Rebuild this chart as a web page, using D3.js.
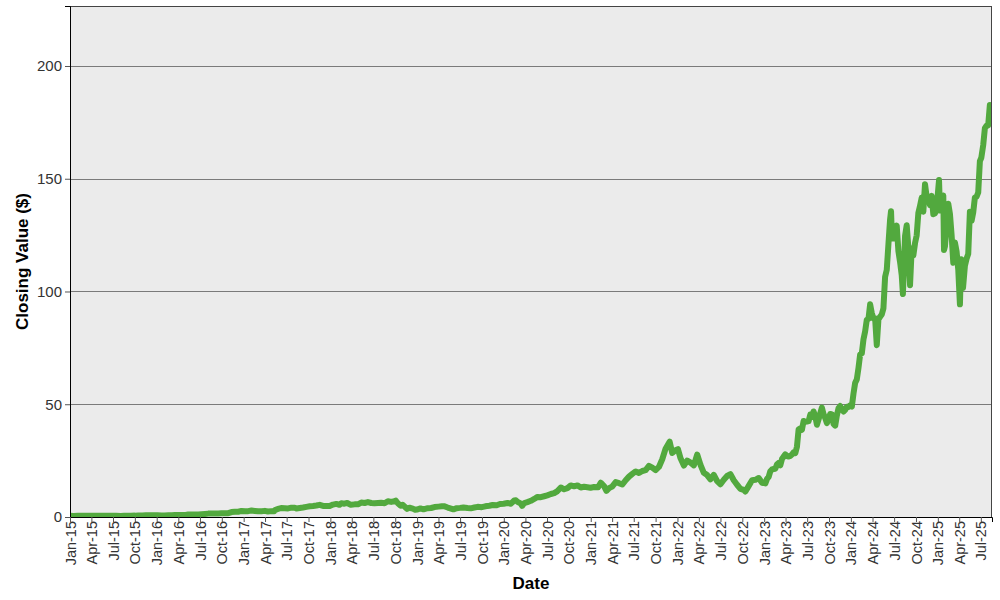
<!DOCTYPE html>
<html>
<head>
<meta charset="utf-8">
<script src="https://cdn.jsdelivr.net/npm/d3@7"></script>
<style>
  html, body { margin: 0; padding: 0; background: #fff; }
  svg { display: block; font-family: "Liberation Sans", Arial, sans-serif; }
</style>
</head>
<body>
<svg id="chart" width="1000" height="600"></svg>
<script>
// ---- data (split-adjusted closing values) ----
const closeDates = [
  "2015-01-02","2015-01-16","2015-02-02","2015-02-17","2015-03-02","2015-03-16","2015-04-01","2015-04-15","2015-05-01","2015-05-15","2015-06-01","2015-06-15","2015-07-01","2015-07-15","2015-08-03","2015-08-17","2015-09-01","2015-09-15","2015-10-01","2015-10-15","2015-11-02","2015-11-16","2015-12-01","2015-12-15",
  "2016-01-04","2016-01-20","2016-02-03","2016-02-19","2016-03-04","2016-03-18","2016-04-01","2016-04-15","2016-05-02","2016-05-13","2016-05-27","2016-06-10","2016-06-24","2016-07-08","2016-07-22","2016-08-05","2016-08-19","2016-09-02","2016-09-16","2016-09-30","2016-10-14","2016-10-28","2016-11-11","2016-11-25","2016-12-09","2016-12-23",
  "2017-01-06","2017-01-20","2017-02-03","2017-02-17","2017-03-03","2017-03-17","2017-03-31","2017-04-13","2017-04-28","2017-05-10","2017-05-12","2017-05-26","2017-06-08","2017-06-23","2017-07-07","2017-07-21","2017-08-04","2017-08-11","2017-08-25","2017-09-08","2017-09-22","2017-10-06","2017-10-20","2017-11-03","2017-11-17","2017-12-01","2017-12-15","2017-12-29",
  "2018-01-12","2018-01-26","2018-02-08","2018-02-16","2018-03-01","2018-03-13","2018-03-28","2018-04-13","2018-04-27","2018-05-11","2018-05-25","2018-06-08","2018-06-22","2018-07-06","2018-07-20","2018-08-03","2018-08-17","2018-08-31","2018-09-14","2018-09-28","2018-10-03","2018-10-12","2018-10-24","2018-11-01","2018-11-16","2018-11-20","2018-11-30","2018-12-14","2018-12-24","2018-12-31",
  "2019-01-15","2019-01-28","2019-02-15","2019-03-01","2019-03-15","2019-04-01","2019-04-15","2019-04-24","2019-05-10","2019-05-24","2019-06-03","2019-06-17","2019-07-01","2019-07-15","2019-08-01","2019-08-15","2019-08-30","2019-09-13","2019-09-30","2019-10-15","2019-11-01","2019-11-15","2019-12-02","2019-12-16","2019-12-31",
  "2020-01-17","2020-01-31","2020-02-14","2020-02-21","2020-02-28","2020-03-13","2020-03-18","2020-03-27","2020-04-09","2020-04-24","2020-05-08","2020-05-22","2020-06-05","2020-06-19","2020-07-02","2020-07-17","2020-07-31","2020-08-14","2020-08-28","2020-09-11","2020-09-25","2020-10-09","2020-10-23","2020-11-06","2020-11-20","2020-12-04","2020-12-18","2020-12-31",
  "2021-01-15","2021-02-01","2021-02-12","2021-02-26","2021-03-08","2021-03-19","2021-04-01","2021-04-16","2021-04-30","2021-05-14","2021-05-28","2021-06-11","2021-06-25","2021-07-09","2021-07-23","2021-08-06","2021-08-20","2021-09-03","2021-09-17","2021-10-01","2021-10-15","2021-10-29","2021-11-12","2021-11-29","2021-12-10","2021-12-24",
  "2022-01-03","2022-01-14","2022-01-28","2022-02-11","2022-02-25","2022-03-11","2022-03-25","2022-04-08","2022-04-22","2022-05-06","2022-05-20","2022-06-03","2022-06-17","2022-07-01","2022-07-15","2022-07-29","2022-08-12","2022-08-26","2022-09-09","2022-09-23","2022-10-07","2022-10-14","2022-10-28","2022-11-11","2022-11-25","2022-12-09","2022-12-23",
  "2023-01-06","2023-01-13","2023-01-20","2023-01-27","2023-02-03","2023-02-10","2023-02-17","2023-02-24","2023-03-03","2023-03-10","2023-03-17","2023-03-24","2023-03-31","2023-04-07","2023-04-14","2023-04-21","2023-04-28","2023-05-05","2023-05-12","2023-05-19","2023-05-26","2023-06-02","2023-06-09","2023-06-16","2023-06-23","2023-06-30","2023-07-07","2023-07-14","2023-07-21","2023-07-28","2023-08-04","2023-08-11","2023-08-18","2023-08-25","2023-09-01","2023-09-08","2023-09-15","2023-09-22","2023-09-29","2023-10-06","2023-10-13","2023-10-20","2023-10-27","2023-11-03","2023-11-10","2023-11-17","2023-11-24","2023-12-01","2023-12-08","2023-12-15","2023-12-22","2023-12-29",
  "2024-01-05","2024-01-12","2024-01-19","2024-01-26","2024-02-02","2024-02-09","2024-02-16","2024-02-23","2024-03-01","2024-03-08","2024-03-15","2024-03-22","2024-03-29","2024-04-05","2024-04-12","2024-04-19","2024-04-26","2024-05-03","2024-05-10","2024-05-17","2024-05-24","2024-05-31","2024-06-07","2024-06-14","2024-06-18","2024-06-21","2024-06-28","2024-07-05","2024-07-12","2024-07-19","2024-07-26","2024-08-02","2024-08-07","2024-08-16","2024-08-23","2024-08-30","2024-09-06","2024-09-13","2024-09-20","2024-09-27","2024-10-04","2024-10-11","2024-10-18","2024-10-25","2024-11-01","2024-11-08","2024-11-15","2024-11-22","2024-11-29","2024-12-06","2024-12-13","2024-12-20","2024-12-27",
  "2025-01-06","2025-01-10","2025-01-17","2025-01-24","2025-01-27","2025-01-31","2025-02-07","2025-02-14","2025-02-21","2025-02-28","2025-03-07","2025-03-14","2025-03-21","2025-03-28","2025-04-04","2025-04-09","2025-04-17","2025-04-25","2025-05-02","2025-05-09","2025-05-16","2025-05-23","2025-05-30","2025-06-06","2025-06-13","2025-06-20","2025-06-27","2025-07-03","2025-07-11","2025-07-18","2025-07-25","2025-08-01","2025-08-08","2025-08-15"
];
const closeValues = [
  0.50,0.49,0.51,0.56,0.57,0.54,0.52,0.54,0.55,0.56,0.55,0.51,0.50,0.50,0.49,0.57,0.56,0.59,0.61,0.68,0.71,0.78,0.80,0.80,
  0.80,0.65,0.70,0.78,0.82,0.88,0.90,0.90,0.90,1.12,1.15,1.15,1.15,1.25,1.37,1.50,1.57,1.55,1.60,1.70,1.70,1.70,2.20,2.37,2.33,2.70,
  2.55,2.60,2.85,2.70,2.55,2.60,2.72,2.42,2.60,2.60,3.10,3.55,4.00,3.90,3.80,4.15,4.10,3.80,4.00,4.20,4.50,4.75,4.90,5.10,5.40,4.90,4.90,4.84,
  5.50,5.80,5.40,6.10,5.90,6.20,5.40,5.60,5.60,6.40,6.20,6.60,6.20,6.10,6.20,6.30,6.10,7.00,6.70,7.00,7.30,6.10,5.00,5.40,4.00,3.60,4.10,3.70,3.20,3.30,
  3.80,3.40,3.90,4.00,4.40,4.60,4.75,4.80,4.20,3.75,3.40,3.90,4.05,4.25,4.00,3.85,4.20,4.50,4.35,4.75,5.00,5.30,5.20,5.75,5.90,
  6.20,5.90,7.30,7.40,6.70,5.90,4.90,6.20,6.60,7.20,8.00,8.90,8.80,9.20,9.60,10.20,10.60,11.50,13.10,12.30,12.80,14.00,13.60,14.00,13.10,13.40,13.20,13.00,
  13.30,13.20,15.20,13.70,11.60,12.80,13.50,15.50,15.00,14.40,16.30,17.90,19.10,20.20,19.50,20.40,20.80,22.70,21.90,20.80,22.20,25.60,30.30,33.40,28.40,29.60,
  30.10,26.00,22.80,25.00,24.10,22.90,27.70,23.10,19.60,18.60,16.70,18.70,15.90,14.50,16.50,18.20,19.00,16.30,14.30,12.50,12.00,11.30,13.80,16.30,16.50,17.30,15.20,
  14.90,16.90,17.80,20.30,21.10,21.30,21.40,23.30,24.00,22.90,25.70,26.80,27.80,27.00,26.80,27.10,27.70,28.70,28.30,31.20,38.90,39.30,38.70,42.60,42.20,42.30,42.50,45.40,44.30,46.80,44.70,40.90,43.30,46.00,48.50,45.60,43.90,41.60,43.50,45.70,45.50,41.30,40.50,45.00,48.30,49.20,47.80,46.80,47.50,48.90,48.80,49.50,
  49.00,54.70,59.50,61.00,66.10,72.10,72.60,78.80,82.30,87.50,87.80,94.30,90.40,88.00,88.10,76.20,87.70,88.80,89.80,92.50,106.50,109.60,120.90,131.90,135.60,126.60,123.50,125.80,129.20,117.90,113.10,107.30,98.90,124.60,129.40,119.40,102.80,119.10,116.00,121.40,124.90,134.80,138.00,141.50,135.40,147.60,141.90,141.90,138.30,142.40,134.30,134.70,137.00,
  149.40,135.90,137.70,142.60,118.40,120.10,129.80,138.90,134.40,124.90,112.70,121.70,117.70,109.70,94.30,114.30,101.50,111.40,114.50,116.70,135.40,131.30,135.10,141.70,142.00,143.90,157.80,159.30,164.90,172.40,173.50,173.70,182.70,180.50
];
const yTickValues = [0, 50, 100, 150, 200];
const xTickFormat = "%b-%y";
const yLabel = "Closing Value ($)";
const xLabel = "Date";

// ---- chart ----
const W = 1000, H = 600;
const margin = { top: 6, right: 8, bottom: 83, left: 70 };
const iw = W - margin.left - margin.right;
const ih = H - margin.top - margin.bottom;

const parse = d3.timeParse("%Y-%m-%d");
const data = closeDates.map((d, i) => ({ date: parse(d), value: closeValues[i] }));

const x = d3.scaleTime()
  .domain([new Date(2015, 0, 1), new Date(2025, 7, 17)])
  .range([0, iw]);
const y = d3.scaleLinear().domain([0, 226.6]).range([ih, 0]);

const svg = d3.select("#chart");
const g = svg.append("g").attr("transform", `translate(${margin.left},${margin.top})`);

g.append("rect").attr("width", iw).attr("height", ih).attr("fill", "#ebebeb");

// grid
g.append("g").selectAll("line").data(yTickValues.filter(v => v > 0)).join("line")
  .attr("x1", 0).attr("x2", iw)
  .attr("y1", d => Math.round(y(d)) + 0.5).attr("y2", d => Math.round(y(d)) + 0.5)
  .attr("stroke", "#7a7a7a").attr("stroke-width", 1);

// clip
svg.append("defs").append("clipPath").attr("id", "clip")
  .append("rect").attr("width", iw).attr("height", ih);

const line = d3.line().x(d => x(d.date)).y(d => y(d.value));
g.append("path").datum(data)
  .attr("clip-path", "url(#clip)")
  .attr("fill", "none")
  .attr("stroke", "#52a93e")
  .attr("stroke-width", 6)
  .attr("stroke-linejoin", "round")
  .attr("stroke-linecap", "butt")
  .attr("d", line);

// frame
g.append("rect").attr("x", 0.5).attr("y", 0.5).attr("width", iw - 1).attr("height", ih)
  .attr("fill", "none").attr("stroke", "#444").attr("stroke-width", 1);

// y axis
const yAxis = d3.axisLeft(y).tickValues(yTickValues).tickSize(5).tickPadding(3);
const ya = g.append("g").call(yAxis);
ya.select(".domain").attr("stroke", "#000");
ya.selectAll(".tick line").attr("stroke", "#555");
ya.selectAll(".tick text").attr("font-size", 15).attr("fill", "#333")
  .attr("font-family", "'Liberation Sans', Arial, sans-serif");

// x axis
const xAxis = d3.axisBottom(x)
  .ticks(d3.timeMonth.every(3))
  .tickFormat(d3.timeFormat(xTickFormat))
  .tickSize(5).tickPadding(3);
const xa = g.append("g").attr("transform", `translate(0,${ih})`).call(xAxis);
xa.select(".domain").attr("stroke", "#000");
xa.selectAll(".tick line").attr("stroke", "#555");
xa.selectAll(".tick text")
  .attr("font-size", 14.5).attr("fill", "#333")
  .attr("font-family", "'Liberation Sans', Arial, sans-serif")
  .attr("text-anchor", "end")
  .attr("dy", "0.35em")
  .attr("transform", "translate(0,4) rotate(-90)")
  .attr("x", 0).attr("y", 0);

// axis titles
svg.append("text")
  .attr("x", margin.left + iw / 2).attr("y", 589)
  .attr("text-anchor", "middle")
  .attr("font-size", 17).attr("font-weight", "bold").attr("fill", "#000")
  .text(xLabel);
svg.append("text")
  .attr("transform", `translate(28,${margin.top + ih / 2}) rotate(-90)`)
  .attr("text-anchor", "middle")
  .attr("font-size", 17).attr("font-weight", "bold").attr("fill", "#000")
  .text(yLabel);
</script>
</body>
</html>
